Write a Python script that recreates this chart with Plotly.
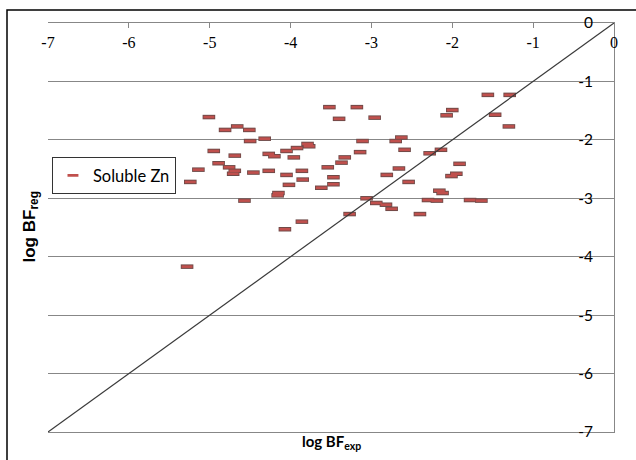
import plotly.graph_objects as go

# Data (log BF_exp, log BF_reg)
log_bf_exp = [
    -3.52, -5.01, -3.40, -4.81, -4.66, -4.51, -4.50, -4.32, -4.95, -4.69,
    -4.27, -4.20, -4.05, -3.92, -3.79, -3.77, -3.96, -3.33, -4.89, -4.76,
    -4.69, -4.71, -5.14, -5.24, -4.46, -4.27, -4.05, -3.86, -3.85, -4.02,
    -4.15, -4.16, -4.57, -3.54, -3.37, -3.47, -3.47, -3.62, -1.56, -1.29,
    -3.18, -2.00, -2.07, -2.96, -1.47, -1.30, -3.11, -2.63, -2.70, -2.59,
    -3.14, -2.28, -2.14, -1.91, -2.66, -2.81, -2.54, -1.95, -2.01, -2.16,
    -2.12, -3.06, -2.94, -2.82, -2.75, -2.30, -2.19, -1.78, -1.64, -3.27,
    -3.86, -4.07, -5.28, -2.40,
]
log_bf_reg = [
    -1.44, -1.61, -1.64, -1.83, -1.77, -1.83, -2.02, -1.98, -2.19, -2.27,
    -2.24, -2.28, -2.19, -2.14, -2.07, -2.11, -2.30, -2.30, -2.40, -2.47,
    -2.53, -2.58, -2.51, -2.72, -2.56, -2.53, -2.60, -2.53, -2.68, -2.77,
    -2.91, -2.95, -3.04, -2.47, -2.39, -2.64, -2.76, -2.82, -1.23, -1.23,
    -1.44, -1.49, -1.58, -1.62, -1.57, -1.77, -2.02, -1.96, -2.02, -2.17,
    -2.21, -2.23, -2.17, -2.41, -2.49, -2.60, -2.72, -2.58, -2.62, -2.87,
    -2.91, -3.00, -3.08, -3.11, -3.18, -3.03, -3.04, -3.03, -3.04, -3.27,
    -3.40, -3.53, -4.17, -3.27,
]
series_name = "Soluble Zn"
x_ticks = [-7, -6, -5, -4, -3, -2, -1, 0]
y_ticks = [0, -1, -2, -3, -4, -5, -6, -7]
diag = [-7, 0]

GRID = "#878787"
PW, PH = 566, 409  # plot area size in px

fig = go.Figure()

# 1:1 line (also anchors the label axes x2/y2)
fig.add_trace(go.Scatter(
    x=diag, y=diag, mode="lines", xaxis="x2", yaxis="y2",
    line=dict(color="#3a3a3a", width=1.2),
    showlegend=False, hoverinfo="skip",
))

# marker border layer
fig.add_trace(go.Scatter(
    x=log_bf_exp, y=log_bf_reg, mode="markers",
    marker=dict(symbol="line-ew", size=9,
                line=dict(color="#6e4a48", width=4.5)),
    showlegend=False, hoverinfo="skip",
))
# marker fill layer
fig.add_trace(go.Scatter(
    x=log_bf_exp, y=log_bf_reg, mode="markers", name=series_name,
    marker=dict(symbol="line-ew", size=7.8,
                line=dict(color="#c0504d", width=2.6)),
))

fig.update_layout(
    width=636, height=460,
    margin=dict(l=48, r=22, t=23, b=28),
    paper_bgcolor="white", plot_bgcolor="white",
    showlegend=True,
    legend=dict(
        x=0.007, y=0.672, xanchor="left", yanchor="top",
        bordercolor="#333333", borderwidth=1, bgcolor="white",
        font=dict(family="Lato", size=16.5, color="black"),
        itemwidth=30, tracegroupgap=0,
    ),
    # main axes: lines, ticks, grid
    xaxis=dict(
        side="top", range=[-7, 0], tickvals=x_ticks,
        ticks="inside", ticklen=5, tickcolor=GRID, showticklabels=False,
        showline=True, linecolor=GRID, linewidth=1, mirror=True,
        showgrid=False, zeroline=False,
    ),
    yaxis=dict(
        side="right", range=[-7, 0], tickvals=y_ticks,
        ticks="", showticklabels=False,
        showline=True, linecolor=GRID, linewidth=1,
        showgrid=True, gridcolor=GRID, gridwidth=1, zeroline=False,
    ),
    # label axes placed inside the plot area
    xaxis2=dict(
        overlaying="x", side="bottom", anchor="free",
        position=1 - 8 / PH, range=[-7, 0], tickvals=x_ticks,
        ticktext=[str(v) for v in x_ticks], ticks="",
        showline=False, showgrid=False, zeroline=False,
        tickfont=dict(family="Liberation Serif", size=16, color="black"),
    ),
    yaxis2=dict(
        overlaying="y", side="left", anchor="free",
        position=(593 - 48) / PW, range=[-7, 0], tickvals=y_ticks,
        ticktext=[str(v) for v in y_ticks], ticks="",
        showline=False, showgrid=False, zeroline=False,
        tickfont=dict(family="Lato", size=15.5, color="black"),
    ),
    shapes=[
        dict(type="rect", xref="paper", yref="paper",
             x0=(7 - 48) / PW, x1=(645 - 48) / PW,
             y0=-(470 - 432) / PH, y1=1 + 13 / PH,
             line=dict(color="black", width=1.5), fillcolor="rgba(0,0,0,0)",
             layer="below"),
    ],
    annotations=[
        dict(text="<b>log BF<sub>exp</sub></b>", xref="paper", yref="paper",
             x=0.5, y=-(442 - 432) / PH, xanchor="center", yanchor="middle",
             showarrow=False, font=dict(family="Lato", size=15, color="black")),
        dict(text="<b>log BF<sub>reg</sub></b>", xref="paper", yref="paper",
             x=(30 - 48) / PW, y=0.5, xanchor="center", yanchor="middle",
             textangle=-90, showarrow=False,
             font=dict(family="Liberation Sans", size=17, color="black")),
    ],
)

fig.write_html("out.html", config={"displayModeBar": False},
               post_script="document.body.style.margin='0';")
